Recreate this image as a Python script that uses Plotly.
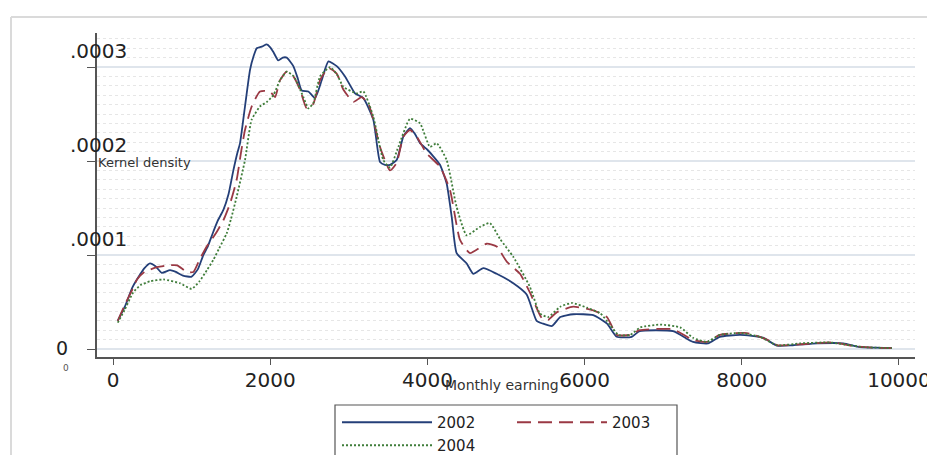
import plotly.graph_objects as go

# ---------------- data (density values in units of 1e-4) ----------------
x_2002 = [60, 150, 250, 350, 400, 470, 540, 620, 725, 800, 890, 1000, 1080, 1149, 1200, 1277,
          1330, 1404, 1470, 1531, 1580, 1616, 1679, 1743, 1790, 1828, 1900, 1955, 2000, 2040,
          2103, 2160, 2210, 2294, 2350, 2400, 2485, 2570, 2655, 2740, 2846, 2952, 3079, 3185,
          3312, 3397, 3460, 3524, 3609, 3694, 3779, 3840, 3906, 4000, 4075, 4160, 4245, 4310,
          4372, 4500, 4584, 4711, 4881, 5093, 5263, 5390, 5470, 5585, 5690, 5855, 6110, 6285,
          6410, 6600, 6700, 7125, 7380, 7570, 7720, 7980, 8270, 8450, 8650, 8960, 9290, 9500,
          9700, 9910]
d_2002 = [0.30, 0.45, 0.66, 0.80, 0.86, 0.91, 0.88, 0.81, 0.84, 0.82, 0.78, 0.77, 0.85, 1.00, 1.08, 1.25,
          1.36, 1.48, 1.65, 1.90, 2.08, 2.19, 2.58, 2.97, 3.12, 3.20, 3.22, 3.24, 3.21, 3.16,
          3.07, 3.10, 3.10, 3.01, 2.88, 2.75, 2.74, 2.67, 2.86, 3.06, 3.01, 2.90, 2.72, 2.67,
          2.44, 1.99, 1.96, 1.96, 2.01, 2.26, 2.35, 2.29, 2.19, 2.12, 2.05, 1.96, 1.76, 1.40,
          1.02, 0.91, 0.80, 0.86, 0.80, 0.70, 0.58, 0.30, 0.27, 0.245, 0.34, 0.37, 0.36, 0.27,
          0.13, 0.13, 0.19, 0.19, 0.075, 0.06, 0.13, 0.15, 0.12, 0.035, 0.04, 0.06, 0.06, 0.02,
          0.015, 0.01]

x_2003 = [60, 150, 250, 305, 400, 560, 700, 815, 940, 1022, 1100, 1192, 1300, 1404, 1490, 1573,
          1630, 1679, 1764, 1870, 1997, 2061, 2125, 2210, 2294, 2379, 2464, 2549, 2634, 2740,
          2846, 2930, 3058, 3164, 3249, 3312, 3397, 3524, 3609, 3694, 3779, 3864, 3991, 4160,
          4288, 4415, 4542, 4754, 4881, 5009, 5178, 5305, 5455, 5535, 5645, 5855, 6110, 6285,
          6410, 6580, 6700, 7125, 7380, 7555, 7720, 8065, 8320, 8450, 8740, 9160, 9415, 9670,
          9910]
d_2003 = [0.30, 0.47, 0.64, 0.74, 0.82, 0.87, 0.89, 0.89, 0.82, 0.82, 0.95, 1.09, 1.22, 1.37, 1.55, 1.80,
          2.10, 2.33, 2.58, 2.74, 2.74, 2.68, 2.86, 2.95, 2.90, 2.76, 2.56, 2.61, 2.86, 2.99,
          2.93, 2.76, 2.63, 2.68, 2.61, 2.44, 2.15, 1.90, 1.98, 2.26, 2.33, 2.26, 2.08, 1.94,
          1.69, 1.16, 1.02, 1.12, 1.09, 0.93, 0.80, 0.60, 0.33, 0.31, 0.39, 0.45, 0.41, 0.34,
          0.15, 0.15, 0.20, 0.21, 0.095, 0.075, 0.15, 0.17, 0.10, 0.04, 0.05, 0.07, 0.03, 0.015,
          0.01]

x_2004 = [60, 150, 255, 350, 470, 640, 850, 1000, 1100, 1195, 1277, 1350, 1446, 1500, 1573, 1679,
          1764, 1870, 1960, 2040, 2125, 2210, 2300, 2422, 2485, 2550, 2634, 2761, 2850, 2930,
          3100, 3185, 3312, 3439, 3524, 3630, 3779, 3906, 4033, 4118, 4245, 4372, 4500, 4669,
          4796, 4924, 5093, 5305, 5430, 5535, 5690, 5840, 6030, 6200, 6320, 6430, 6580, 6710,
          6960, 7215, 7380, 7555, 7720, 7980, 8230, 8450, 8740, 9120, 9380, 9550, 9910]
d_2004 = [0.28, 0.42, 0.60, 0.68, 0.72, 0.74, 0.70, 0.64, 0.72, 0.84, 0.95, 1.07, 1.23, 1.38, 1.62, 2.01,
          2.44, 2.58, 2.63, 2.70, 2.86, 2.95, 2.90, 2.68, 2.56, 2.62, 2.90, 3.00, 2.92, 2.79,
          2.72, 2.74, 2.47, 2.01, 1.93, 2.15, 2.45, 2.40, 2.15, 2.19, 2.01, 1.51, 1.21, 1.30,
          1.34, 1.17, 0.98, 0.66, 0.38, 0.34, 0.45, 0.49, 0.44, 0.38, 0.26, 0.15, 0.15, 0.23,
          0.26, 0.23, 0.12, 0.075, 0.15, 0.17, 0.13, 0.04, 0.06, 0.07, 0.04, 0.02, 0.01]

series_names = ["2002", "2003", "2004"]
x_tick_vals = [0, 2000, 4000, 6000, 8000, 10000]
x_tick_text = ["0", "2000", "4000", "6000", "8000", "10000"]
y_tick_vals = [0, 0.0001, 0.0002, 0.0003]
y_tick_text = ["0", ".0001", ".0002", ".0003"]
x_title = "Monthly earning"
y_title = "Kernel density"

scale = 1e-4
FONT = "DejaVu Sans, Liberation Sans, Arial, sans-serif"
colors = ["#243f78", "#9a3944", "#3f7d3a"]
dashes = ["solid", "14px,7px", "2px,2px"]

fig = go.Figure()
for name, xs, ds, col, dash, lg in zip(series_names, [x_2002, x_2003, x_2004],
                                       [d_2002, d_2003, d_2004], colors, dashes,
                                       ["legend", "legend", "legend2"]):
    fig.add_trace(go.Scatter(
        x=xs, y=[v * scale for v in ds], name=name, mode="lines",
        line=dict(color=col, width=1.8, dash=dash, shape="spline", smoothing=0.5),
        legend=lg,
    ))

# page offset of the figure (default body margin) compensated here
OFF = 8
W, H = 935 - OFF, 455 - OFF
PL, PT = 97 - OFF, 33 - OFF
PR = W - (915 - OFF)
PB = H - (357 - OFF)
pw, ph = W - PL - PR, H - PT - PB

def px_x(p):
    return (p - OFF - PL) / pw

def px_y(p):
    return (H - PB - (p - OFF)) / ph

annotations = []
for v, t in zip(y_tick_vals, y_tick_text):
    if v == 0:
        annotations.append(dict(x=px_x(62), y=v, xref="paper", yref="y", text=t,
                                showarrow=False, xanchor="center", yanchor="middle", yshift=1,
                                borderpad=0,
                                font=dict(family=FONT, size=19, color="#222")))
    else:
        annotations.append(dict(x=px_x(129), y=v, xref="paper", yref="y", text=t,
                                showarrow=False, xanchor="right", yanchor="middle", yshift=16,
                                font=dict(family=FONT, size=20, color="#222")))
annotations.append(dict(x=px_x(62), y=px_y(374), xref="paper", yref="paper", text="0",
                        showarrow=False, borderpad=0,
                        font=dict(family=FONT, size=9, color="#555")))
annotations.append(dict(x=px_x(96), y=px_y(162), xref="paper", yref="paper", text=y_title,
                        showarrow=False, font=dict(family=FONT, size=13, color="#333")))
annotations.append(dict(x=px_x(502), y=px_y(395), xref="paper", yref="paper", text=x_title,
                        showarrow=False, font=dict(family=FONT, size=14, color="#333")))

shapes = [
    dict(type="line", xref="paper", yref="paper", x0=px_x(11), x1=px_x(11), y0=px_y(17), y1=px_y(470),
         line=dict(color="#dadada", width=2)),
    dict(type="line", xref="paper", yref="paper", x0=px_x(11), x1=px_x(950), y0=px_y(17), y1=px_y(17),
         line=dict(color="#dadada", width=2)),
    dict(type="rect", xref="paper", yref="paper", x0=px_x(335), x1=px_x(677), y0=px_y(405), y1=px_y(480),
         line=dict(color="#555", width=1.2), fillcolor="rgba(0,0,0,0)"),
]

fig.update_layout(
    width=W, height=H,
    margin=dict(l=PL, r=PR, t=PT, b=PB, autoexpand=False),
    paper_bgcolor="white", plot_bgcolor="white",
    font=dict(family=FONT, color="#222"),
    showlegend=True,
    legend=dict(orientation="h", x=px_x(337), y=px_y(406), xanchor="left", yanchor="top",
                bgcolor="rgba(0,0,0,0)", borderwidth=0, itemwidth=90, entrywidth=70,
                font=dict(family=FONT, size=15, color="#222"), itemclick=False),
    legend2=dict(orientation="h", x=px_x(337), y=px_y(429), xanchor="left", yanchor="top",
                 bgcolor="rgba(0,0,0,0)", borderwidth=0, itemwidth=90,
                 font=dict(family=FONT, size=15, color="#222"), itemclick=False),
    xaxis=dict(range=[-204, 10204], tickvals=x_tick_vals, ticktext=x_tick_text,
               showgrid=False, zeroline=False, showline=True, linecolor="#555", linewidth=1.5,
               ticks="outside", ticklen=6, tickcolor="#555", tickwidth=1.2,
               ticklabelstandoff=-2,
               tickfont=dict(family=FONT, size=20, color="#222")),
    yaxis=dict(range=[-0.0000085, 0.0003362], tickvals=y_tick_vals, showticklabels=False,
               showgrid=True, gridcolor="#dfe5ec", gridwidth=1.5, zeroline=False,
               showline=True, linecolor="#555", linewidth=1.5,
               ticks="outside", ticklen=8, tickcolor="#555", tickwidth=1.2,
               minor=dict(dtick=0.00001, showgrid=True, gridcolor="#e6e6e6", griddash="dot",
                          gridwidth=1, ticks="")),
    annotations=annotations,
    shapes=shapes,
)

fig.write_html("out.html")
